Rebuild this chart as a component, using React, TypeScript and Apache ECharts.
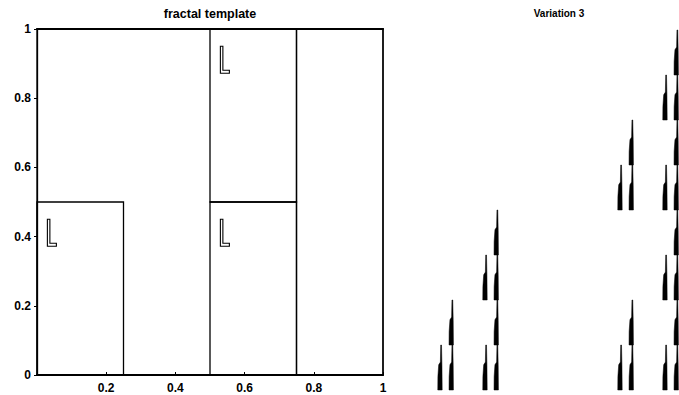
import React, { useEffect, useRef } from 'react';
import * as echarts from 'echarts';

// Template rectangles [x0, y0, x1, y1] and whether an orientation "L" is drawn in it
const templateRects = [
  [0, 0, 0.25, 0.5],
  [0.5, 0, 0.75, 0.5],
  [0.5, 0.5, 0.75, 1],
  [0.75, 0, 1, 1],
];
const templateHasL = [1, 1, 1, 0];

const axisTicks = [0, 0.2, 0.4, 0.6, 0.8, 1];

// Fractal (Variation 3): visible spike columns (left edge, unit coords) and the
// bottoms of the stacked cells found in each column
const spikeColumnsX = [0, 0.03125, 0.125, 0.15625, 0.5, 0.53125, 0.625, 0.65625];
const spikeCellBottoms = [
  [0],
  [0, 0.125],
  [0, 0.25],
  [0, 0.125, 0.25, 0.375],
  [0, 0.5],
  [0, 0.125, 0.5, 0.625],
  [0, 0.25, 0.5, 0.75],
  [0, 0.125, 0.25, 0.375, 0.5, 0.625, 0.75, 0.875],
];

const CELL_W = 1 / 64;
const CELL_H = 1 / 8;
const FONT = '"Liberation Sans", Arial, Helvetica, sans-serif';
// right panel is a 360px unit square starting at x=437, cut by the page edge at 679
const RIGHT_VISIBLE_MAX = (679 - 437) / 360;

export default function App() {
  const ref = useRef<HTMLDivElement>(null);

  useEffect(() => {
    document.body.style.margin = '0';
    const chart = echarts.init(ref.current!, null, { renderer: 'svg' });

    const rectData = templateRects.map((r, i) => [...r, templateHasL[i]]);
    const cellData: number[][] = [];
    spikeColumnsX.forEach((x, i) => {
      spikeCellBottoms[i].forEach((y) => cellData.push([x, y]));
    });

    const wedge = [
      [0.14, 0], [0.92, 0], [0.88, 0.55], [0.8, 1], [0.66, 1], [0.6, 0.62], [0.3, 0.56], [0.16, 0.3],
    ];

    chart.setOption({
      animation: false,
      backgroundColor: '#fff',
      grid: [
        { left: 37, top: 29, width: 346, height: 346, show: true, borderColor: '#000', borderWidth: 1.3, backgroundColor: 'transparent' },
        { left: 437, top: 30, width: 679 - 437, height: 360, show: false },
      ],
      xAxis: [
        {
          gridIndex: 0, type: 'value', min: 0, max: 1, interval: 0.2,
          axisLine: { show: true, lineStyle: { color: '#000', width: 2 } },
          axisTick: { show: true, inside: true, length: 3, lineStyle: { color: '#000' } },
          splitLine: { show: false },
          axisLabel: {
            color: '#000', fontSize: 12, fontWeight: 'bold', fontFamily: FONT, margin: 7,
            customValues: axisTicks,
            formatter: (v: number) => (v === 0 ? '' : String(v)),
          },
        },
        {
          gridIndex: 0, type: 'value', min: 0, max: 1, position: 'top',
          axisLine: { show: true, lineStyle: { color: '#000', width: 2 } },
          axisTick: { show: false }, axisLabel: { show: false }, splitLine: { show: false },
        },
        { gridIndex: 1, type: 'value', min: 0, max: RIGHT_VISIBLE_MAX, show: false },
      ],
      yAxis: [
        {
          gridIndex: 0, type: 'value', min: 0, max: 1, interval: 0.2,
          axisLine: { show: true, lineStyle: { color: '#000', width: 1.3 } },
          axisTick: { show: true, inside: false, length: 3, lineStyle: { color: '#000' } },
          splitLine: { show: false },
          axisLabel: { color: '#000', fontSize: 12, fontWeight: 'bold', fontFamily: FONT, margin: 6 },
        },
        { gridIndex: 1, type: 'value', min: 0, max: 1, show: false },
      ],
      series: [
        {
          type: 'custom',
          xAxisIndex: 0, yAxisIndex: 0,
          data: rectData,
          encode: { x: [0, 2], y: [1, 3] },
          clip: false,
          renderItem: (params: any, api: any) => {
            const p0 = api.coord([api.value(0), api.value(1)]);
            const p1 = api.coord([api.value(2), api.value(3)]);
            const w = p1[0] - p0[0];
            const h = p0[1] - p1[1];
            const children: any[] = [
              {
                type: 'rect',
                shape: { x: p0[0], y: p1[1], width: w, height: h },
                style: { fill: 'none', stroke: '#000', lineWidth: 1.3 },
              },
            ];
            if (api.value(4)) {
              const lx = p0[0] + 0.12 * w;
              const ly = p1[1] + 0.1 * h;
              children.push({
                type: 'polygon',
                shape: {
                  points: [
                    [lx, ly], [lx + 2.5, ly], [lx + 2.5, ly + 24], [lx + 9, ly + 24],
                    [lx + 9, ly + 27], [lx, ly + 27],
                  ],
                },
                style: { fill: '#fff', stroke: '#000', lineWidth: 1.1 },
              });
            }
            return { type: 'group', children };
          },
        },
        {
          type: 'custom',
          xAxisIndex: 2, yAxisIndex: 1,
          data: cellData,
          encode: { x: 0, y: 1 },
          clip: false,
          renderItem: (params: any, api: any) => {
            const x = api.value(0);
            const y = api.value(1);
            const p0 = api.coord([x, y]);
            const p1 = api.coord([x + CELL_W, y + CELL_H]);
            const w = p1[0] - p0[0];
            const h = p0[1] - p1[1];
            return {
              type: 'polygon',
              shape: { points: wedge.map(([u, v]) => [p0[0] + u * w, p0[1] - v * h]) },
              style: { fill: '#000', stroke: '#000', lineWidth: 0.5 },
            };
          },
        },
      ],
      graphic: [
        {
          type: 'text', x: 210, y: 14,
          style: {
            text: 'fractal template', font: `bold 12.5px ${FONT}`, fill: '#000',
            textAlign: 'center', textVerticalAlign: 'middle', align: 'center', verticalAlign: 'middle',
          },
        },
        {
          type: 'text', x: 559, y: 13,
          style: {
            text: 'Variation 3', font: `bold 10px ${FONT}`, fill: '#000',
            textAlign: 'center', textVerticalAlign: 'middle', align: 'center', verticalAlign: 'middle',
          },
        },
      ],
    });

    return () => chart.dispose();
  }, []);

  return (
    <div
      ref={ref}
      style={{ position: 'fixed', left: 0, top: 0, width: 679, height: 395, background: '#fff' }}
    />
  );
}
